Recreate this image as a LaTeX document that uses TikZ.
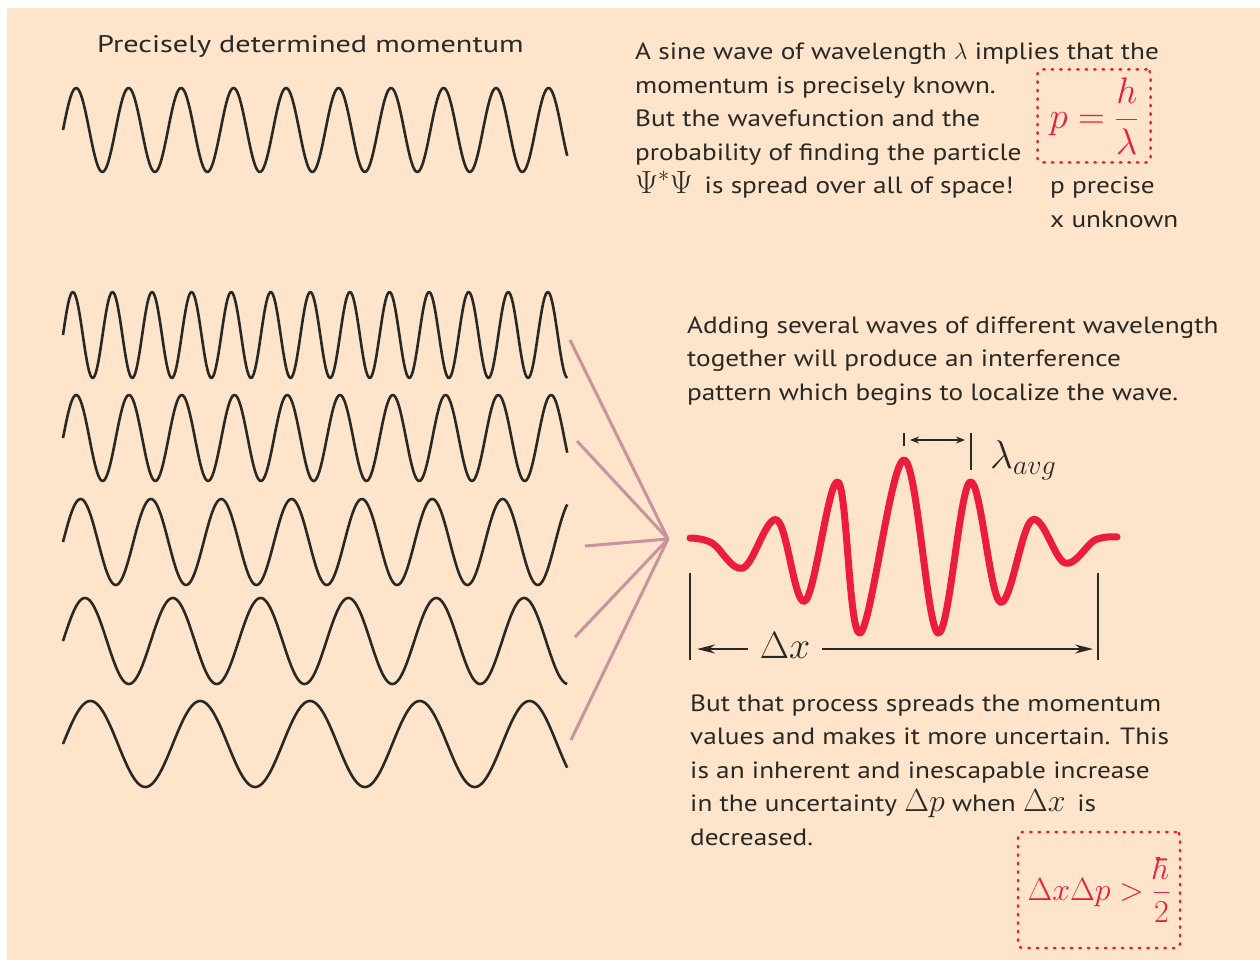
\RequirePackage{fix-cm}
\documentclass[tikz,border=0pt]{standalone}
\usepackage{amsmath}
\usepackage{fontspec}
\setmainfont{PT Sans}[FakeStretch=1.16]
\newfontfamily\titlefont{PT Sans}[FakeStretch=1.26]
\usetikzlibrary{arrows.meta, calc}
\definecolor{peach}{RGB}{253,228,203}
\definecolor{inkgrey}{RGB}{40,40,36}
\definecolor{packetred}{RGB}{236,28,60}
\definecolor{rayrose}{RGB}{201,146,156}

\begin{document}
\begin{tikzpicture}[
  x=1pt, y=-1pt, >=Stealth,
  txt/.style    = {anchor=base west, align=left, inner sep=0pt, text=inkgrey,
                   font=\fontsize{23.5}{33.5}\selectfont},
  wave/.style   = {draw=inkgrey, line width=2.6pt, line join=round},
  ray/.style    = {draw=rayrose, line width=3pt},
  packet/.style = {draw=packetred, line width=7pt, line cap=round, line join=round},
  dotbox/.style = {draw=packetred, line width=2.5pt, dash pattern=on 1.5pt off 7pt,
                   line cap=round, rounded corners=4pt, text=packetred, inner sep=0pt},
  tick/.style   = {draw=inkgrey, line width=1.8pt},
]
\useasboundingbox (0,0) rectangle (1260,960);
\fill[peach] (7,8) rectangle (1260,960);

%--- top: one wavelength only ---
  \node[txt, font=\titlefont\fontsize{24}{30}\selectfont] (title) at (97,53)
    {Precisely determined momentum};
  \draw[wave] plot[domain=0:1, samples=400, variable=\t]
    ({63+505*\t}, {130-42*sin(360*9.62*\t)});

  % anchor is the base of the last line
  \node[txt] (sinetxt) at (635,193.5)
    {A sine wave of wavelength $\lambda$ implies that the\\
     momentum is precisely known.\\
     But the wavefunction and the\\
     probability of finding the particle\\
     {\fontsize{32}{33}\selectfont$\Psi^{*}\Psi$}\enspace is spread over all of space!};

  \node[dotbox, minimum width=113, minimum height=93,
        font=\fontsize{37}{40}\selectfont] (pbox) at (1094,116) {$p=\dfrac{h}{\lambda}$};
  \node[txt] (ptxt) at (1050,227) {p precise\\x unknown};

%--- bottom: several wavelengths added ---
  \coordinate (focus) at (668,539);
  \foreach \yc/\n [count=\i] in {335/12.76, 438/9.57, 542/7.18, 641/5.75, 744/4.6} {
    \draw[wave] plot[domain=0:1, samples=400, variable=\t]
      ({63+505*\t}, {\yc-43*sin(360*\n*\t)});
  }
  \coordinate (r1) at (570,340);
  \coordinate (r2) at (577,441);
  \coordinate (r3) at (585,546);
  \coordinate (r4) at (575,637);
  \coordinate (r5) at (571,740);
  \foreach \r in {r1,r2,r3,r4,r5}
    \draw[ray] (\r) -- (focus);

  \node[txt] (addtxt) at (687,400)
    {Adding several waves of different wavelength\\
     together will produce an interference\\
     pattern which begins to localize the wave.};

  % wave packet
  \draw[packet] plot[smooth, tension=0.6] coordinates {
    (690,538) (712,543) (743,568) (777,520) (805,601) (838,482) (860,633)
    (904,460) (938,633) (970,482) (1000,602) (1032,520) (1065,563)
    (1095,540) (1117,537)};

  % average wavelength
  \coordinate (la) at (904,433);
  \coordinate (lb) at (971,433);
  \draw[tick] (la) -- ++(0,13);
  \draw[tick] (lb) -- ++(0,37);
  \draw[tick, {Stealth[length=9pt,width=7pt]}-{Stealth[length=9pt,width=7pt]}]
    ($(la)+(6,7)$) -- ($(lb)+(-6,7)$);
  \node[anchor=west, inner sep=0pt, text=inkgrey, font=\fontsize{40}{44}\selectfont] (lavg)
    at (990,460) {$\lambda_{avg}$};

  % packet width
  \coordinate (xa) at (690,573);
  \coordinate (xb) at (1098,573);
  \draw[tick] (xa) -- ++(0,87);
  \draw[tick] (xb) -- ++(0,87);
  \node[inner xsep=12pt, inner ysep=2pt, text=inkgrey, font=\fontsize{38}{40}\selectfont]
    (dx) at (785,646) {$\Delta x$};
  \draw[tick, -{Stealth[length=18pt,width=9pt]}] (dx.west |- 0,649) -- ($(xa |- 0,649)+(7,0)$);
  \draw[tick, -{Stealth[length=18pt,width=9pt]}] (dx.east |- 0,649) -- ($(xb |- 0,649)+(-5,0)$);

  \node[txt] (spreadtxt) at (690,845)
    {But that process spreads the momentum\\
     values and makes it more uncertain. This\\
     is an inherent and inescapable increase\\
     in the uncertainty {\fontsize{32}{33}\selectfont$\Delta p$} when {\fontsize{32}{33}\selectfont$\Delta x$}\enspace is\\
     decreased.};

  \node[dotbox, minimum width=162, minimum height=116,
        font=\fontsize{32}{36}\selectfont] (ubox) at (1099,890)
    {$\Delta x\Delta p>\dfrac{\hbar}{2}$};
\end{tikzpicture}
\end{document}
